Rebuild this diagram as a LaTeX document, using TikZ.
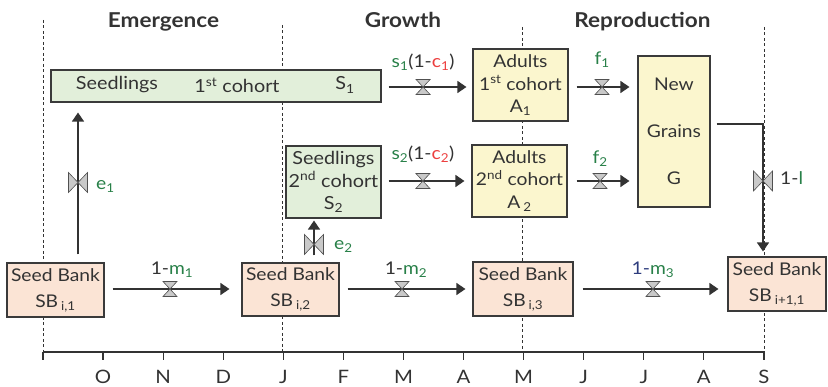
\documentclass[tikz,border=0pt]{standalone}
\usepackage{fontspec}
\setmainfont{Lato}[FakeStretch=1.1]
\usetikzlibrary{arrows.meta,calc}
\definecolor{ink}{HTML}{333333}
\definecolor{boxline}{HTML}{3A3A3A}
\definecolor{grn}{RGB}{40,128,72}
\definecolor{rd}{RGB}{236,62,62}
\definecolor{nvy}{RGB}{45,60,125}
\definecolor{seedfill}{HTML}{E2EFDA}
\definecolor{adultfill}{HTML}{FBF6CE}
\definecolor{bankfill}{HTML}{FBE4D5}
\definecolor{valvefill}{HTML}{C9C9C9}
\definecolor{valveline}{HTML}{505050}
\begin{document}
\begin{tikzpicture}[x=1pt,y=-1pt,
  every node/.style={text=ink, font=\fontsize{17.5}{21}\selectfont, inner sep=0pt},
  box/.style={draw=boxline, line width=1.1pt, align=center},
  seedl/.style={box, fill=seedfill},
  adult/.style={box, fill=adultfill},
  bank/.style={box, fill=bankfill},
  flow/.style={draw=ink, line width=1.2pt, -{Triangle[length=9pt,width=12pt]}},
  phase/.style={draw=ink, line width=0.8pt, dash pattern=on 3pt off 2.5pt},
  title/.style={font=\fontsize{20.5}{24}\selectfont\bfseries, anchor=base},
  month/.style={font=\fontsize{18.5}{20}\selectfont},
  hvalve/.pic={\filldraw[fill=valvefill, draw=valveline, line width=0.6pt]
    (-7,-7.5) -- (7,-7.5) -- (0,0) -- cycle (-7,7.5) -- (7,7.5) -- (0,0) -- cycle;},
  vvalve/.pic={\filldraw[fill=valvefill, draw=valveline, line width=0.6pt]
    (-9.5,-10) -- (-9.5,10) -- (0,0) -- cycle (9.5,-10) -- (9.5,10) -- (0,0) -- cycle;},
]
\useasboundingbox (0,0) rectangle (828,387);

% phase boundaries and titles
\draw[phase] (43,20) -- (43,352);
\draw[phase] (282,25) -- (282,352);
\draw[phase] (522,27) -- (522,352);
\draw[phase] (764,27) -- (764,352);
\node[title] (tEm) at (163.5,28) {Emergence};
\node[title] (tGr) at (403,28) {Growth};
\node[title] (tRe) at (642.5,28) {Reproduction};

% time axis
\draw[ink, line width=1.2pt] (43,352) -- (764,352);
\foreach \m [count=\i from 0] in {{},O,N,D,J,F,M,A,M,J,J,A,S}{
  \draw[ink, line width=1.2pt] ({43+60.08*\i},352) -- ({43+60.08*\i},360);
  \node[month] (mon\i) at ({43+60.08*\i},377) {\m};
}

% compartments
\node[seedl, minimum width=330pt, minimum height=32pt] (S1) at (216,86) {};
\node[font=\fontsize{18}{21}\selectfont] (S1a) at (117,85) {Seedlings};
\node[font=\fontsize{18}{21}\selectfont] (S1b) at (237,85) {1\textsuperscript{st} cohort};
\node[font=\fontsize{18}{21}\selectfont] (S1c) at (345,85) {S\textsubscript{1}};
\node[seedl, minimum width=95pt, minimum height=72pt, font=\fontsize{18}{22.5}\selectfont] (S2) at (333.5,182)
  {Seedlings\\2\textsuperscript{nd} cohort\\S\textsubscript{2}};
\node[adult, minimum width=95pt, minimum height=72pt, font=\fontsize{17.5}{22.5}\selectfont] (A1) at (520.5,85)
  {Adults\\1\textsuperscript{st} cohort\\A\textsubscript{1}};
\node[adult, minimum width=95pt, minimum height=72pt, font=\fontsize{17.5}{22.5}\selectfont] (A2) at (519.5,181)
  {Adults\\2\textsuperscript{nd} cohort\\A\,\textsubscript{2}};
\node[adult, minimum width=72pt, minimum height=151pt, font=\fontsize{17.5}{47}\selectfont] (NG) at (674,131.5)
  {New\\Grains\\G};
\node[bank, minimum width=97pt, minimum height=54pt, font=\fontsize{17.5}{26}\selectfont] (SB1) at (55.5,290)
  {Seed Bank\\SB\,\textsubscript{i,1}};
\node[bank, minimum width=97pt, minimum height=53pt, font=\fontsize{17.5}{26}\selectfont] (SB2) at (290.5,289.5)
  {Seed Bank\\SB\,\textsubscript{i,2}};
\node[bank, minimum width=100pt, minimum height=54pt, font=\fontsize{17.5}{26}\selectfont] (SB3) at (523,289)
  {Seed Bank\\SB\,\textsubscript{i,3}};
\node[bank, minimum width=98pt, minimum height=54pt, font=\fontsize{17.5}{26}\selectfont] (SB4) at (777,284)
  {Seed Bank\\SB\,\textsubscript{i+1,1}};

% seedlings to adults
\draw[flow, shorten <=7pt, shorten >=6pt] ([yshift=-1pt]S1.east) -- coordinate[pos=0.457] (vs1) ([yshift=-1pt]S1.east -| A1.west);
\pic at (vs1) {hvalve};
\node[anchor=base] (ls1) at ($(vs1)+(0,-19)$) {\textcolor{grn}{s\textsubscript{1}}(1-\textcolor{rd}{c\textsubscript{1}})};
\draw[flow, shorten <=7pt, shorten >=7pt] (S2.east |- A2.west) -- coordinate[pos=0.46] (vs2) (A2.west);
\pic at (vs2) {hvalve};
\node[anchor=base] (ls2) at ($(vs2)+(0,-21)$) {\textcolor{grn}{s\textsubscript{2}}(1-\textcolor{rd}{c\textsubscript{2}})};

% adults to new grains
\draw[flow, shorten <=8pt, shorten >=8pt] ([yshift=-2pt]A1.east) -- coordinate[pos=0.486] (vf1) ([yshift=-2pt]A1.east -| NG.west);
\pic at (vf1) {hvalve};
\node[anchor=base] (lf1) at ($(vf1)+(0,-22)$) {\textcolor{grn}{f\textsubscript{1}}};
\draw[flow, shorten <=9pt, shorten >=8pt] (A2.east) -- coordinate[pos=0.465] (vf2) (A2.east -| NG.west);
\pic at (vf2) {hvalve};
\node[anchor=base] (lf2) at ($(vf2)+(0,-17)$) {\textcolor{grn}{f\textsubscript{2}}};

% seed bank transitions
\draw[flow, shorten <=8pt, shorten >=12pt] ([yshift=1pt]SB1.east) -- coordinate[pos=0.478] (vm1) ([yshift=1pt]SB1.east -| SB2.west);
\pic at (vm1) {hvalve};
\node[anchor=base] (lm1) at ($(vm1)+(2,-14)$) {1-\textcolor{grn}{m\textsubscript{1}}};
\draw[flow, shorten <=8pt, shorten >=7pt] ([yshift=0.5pt]SB2.east) -- coordinate[pos=0.47] (vm2) ([yshift=0.5pt]SB2.east -| SB3.west);
\pic at (vm2) {hvalve};
\node[anchor=base] (lm2) at ($(vm2)+(4,-14)$) {1-\textcolor{grn}{m\textsubscript{2}}};
\draw[flow, shorten <=9pt, shorten >=9pt] (SB3.east) -- coordinate[pos=0.516] (vm3) (SB3.east -| SB4.west);
\pic at (vm3) {hvalve};
\node[anchor=base] (lm3) at ($(vm3)+(0,-14)$) {\textcolor{nvy}{1-}\textcolor{grn}{m\textsubscript{3}}};

% emergence
\coordinate (e1foot) at ([xshift=22.5pt]SB1.north);
\draw[flow, shorten <=8pt, shorten >=10pt] (e1foot) -- coordinate[pos=0.5] (ve1) (e1foot |- S1.south);
\pic at (ve1) {vvalve};
\node[anchor=base west] (le1) at ($(ve1)+(18,7)$) {\textcolor{grn}{e\textsubscript{1}}};
\coordinate (e2foot) at ([xshift=23.5pt]SB2.north);
\draw[flow, shorten <=7pt, shorten >=2pt] (e2foot) -- coordinate[pos=0.41] (ve2) (e2foot |- S2.south);
\pic at (ve2) {vvalve};
\node[anchor=base west] (le2) at ($(ve2)+(20,5)$) {\textcolor{grn}{e\textsubscript{2}}};

% new grains into the next seed bank
\coordinate (drop) at (763,124);
\draw[flow, shorten <=6pt, shorten >=5pt] ([yshift=7.5pt]NG.east) -- (drop) -- coordinate[pos=0.43] (vl) (drop |- SB4.north);
\pic at (vl) {vvalve};
\node[anchor=base west] (ll) at ($(vl)+(17,4)$) {1-\textcolor{grn}{l}};
\end{tikzpicture}
\end{document}
